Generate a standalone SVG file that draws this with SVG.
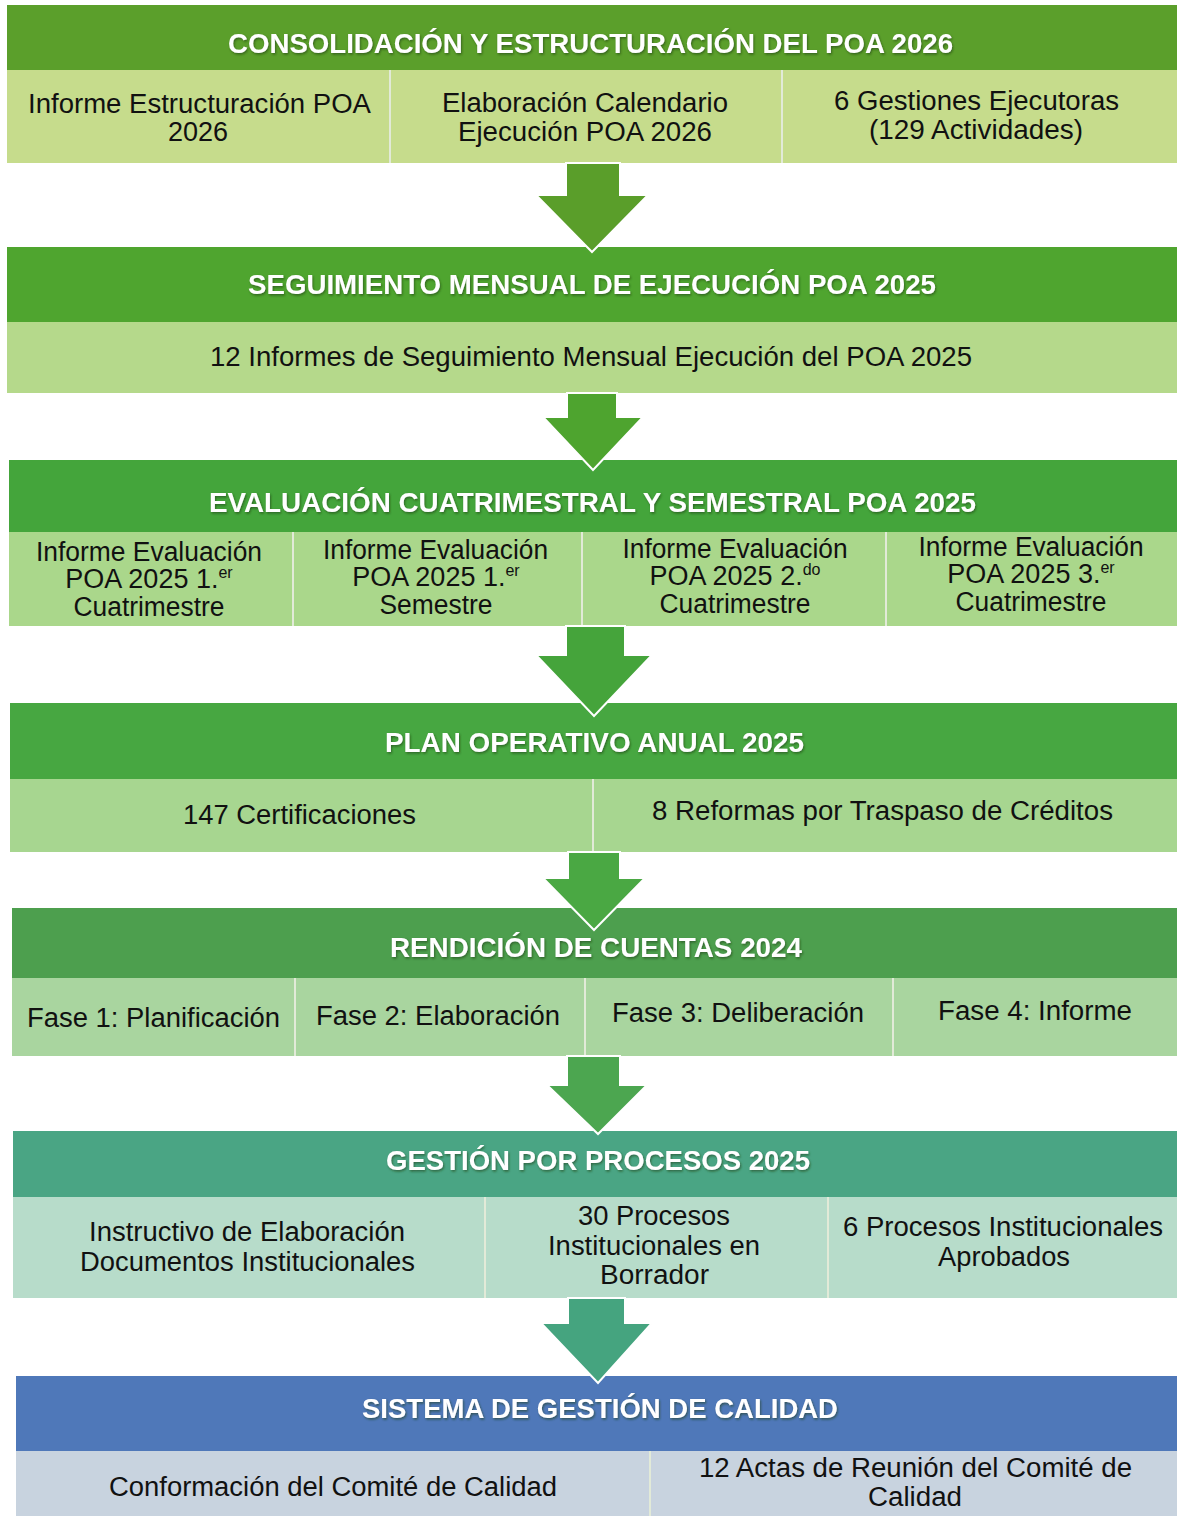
<svg xmlns="http://www.w3.org/2000/svg" width="1177" height="1516" viewBox="0 0 1177 1516">
<defs>
<style>
.hd{font-family:"Liberation Sans",Arial,sans-serif;font-weight:bold;font-size:27px;fill:#ffffff;text-anchor:middle;filter:url(#sh)}
.ct{font-family:"Liberation Sans",Arial,sans-serif;font-size:27px;fill:#111111;text-anchor:middle}
.cn{font-family:"Liberation Sans",Arial,sans-serif;font-size:27px;fill:#111111;text-anchor:middle}
.sup{font-size:16px}
.dv{stroke:#e2ead8;stroke-width:2}
.arr{stroke:#ffffff;stroke-width:2;stroke-linejoin:miter}
</style>
<filter id="sh" x="-5%" y="-30%" width="110%" height="160%">
<feDropShadow dx="1" dy="1.5" stdDeviation="0.8" flood-color="#1e3a0a" flood-opacity="0.6"/>
</filter>
</defs>
<rect width="1177" height="1516" fill="#ffffff"/>

<g id="s1">
<rect x="7" y="5" width="1170" height="65" fill="#5b9f2b"/>
<rect x="7" y="70" width="1170" height="93" fill="#c6dc8c"/>
<line class="dv" x1="390" y1="70" x2="390" y2="163"/>
<line class="dv" x1="782" y1="70" x2="782" y2="163"/>
<text class="hd" x="590.5" y="53" textLength="725" lengthAdjust="spacingAndGlyphs">CONSOLIDACIÓN Y ESTRUCTURACIÓN DEL POA 2026</text>
<text class="ct" x="199.5" y="113" textLength="343" lengthAdjust="spacingAndGlyphs">Informe Estructuración POA</text>
<text class="ct" x="198" y="141">2026</text>
<text class="ct" x="585" y="112" textLength="286" lengthAdjust="spacingAndGlyphs">Elaboración Calendario</text>
<text class="ct" x="585" y="141" textLength="254" lengthAdjust="spacingAndGlyphs">Ejecución POA 2026</text>
<text class="ct" x="976.5" y="110" textLength="285" lengthAdjust="spacingAndGlyphs">6 Gestiones Ejecutoras</text>
<text class="ct" x="976" y="139" textLength="214" lengthAdjust="spacingAndGlyphs">(129 Actividades)</text>
</g>

<g id="s2">
<rect x="7" y="247" width="1170" height="75" fill="#4fa52f"/>
<rect x="7" y="322" width="1170" height="71" fill="#b5d98b"/>
<text class="hd" x="592" y="294" textLength="688" lengthAdjust="spacingAndGlyphs">SEGUIMIENTO MENSUAL DE EJECUCIÓN POA 2025</text>
<text class="ct" x="591" y="366" textLength="762" lengthAdjust="spacingAndGlyphs">12 Informes de Seguimiento Mensual Ejecución del POA 2025</text>
</g>

<g id="s3">
<rect x="9" y="460" width="1168" height="72" fill="#44a53b"/>
<rect x="9" y="532" width="1168" height="94" fill="#aad78b"/>
<line class="dv" x1="293" y1="532" x2="293" y2="626"/>
<line class="dv" x1="582" y1="532" x2="582" y2="626"/>
<line class="dv" x1="886" y1="532" x2="886" y2="626"/>
<text class="hd" x="592.5" y="512" textLength="767" lengthAdjust="spacingAndGlyphs">EVALUACIÓN CUATRIMESTRAL Y SEMESTRAL POA 2025</text>
<text class="ct" x="149" y="561" textLength="226" lengthAdjust="spacingAndGlyphs">Informe Evaluación</text>
<text class="ct" x="149" y="588">POA 2025 1.<tspan class="sup" dy="-10">er</tspan></text>
<text class="ct" x="149" y="616" textLength="151" lengthAdjust="spacingAndGlyphs">Cuatrimestre</text>
<text class="ct" x="435.5" y="559" textLength="225" lengthAdjust="spacingAndGlyphs">Informe Evaluación</text>
<text class="ct" x="436" y="586">POA 2025 1.<tspan class="sup" dy="-10">er</tspan></text>
<text class="ct" x="436" y="614" textLength="113" lengthAdjust="spacingAndGlyphs">Semestre</text>
<text class="ct" x="735" y="558" textLength="225" lengthAdjust="spacingAndGlyphs">Informe Evaluación</text>
<text class="ct" x="735" y="585">POA 2025 2.<tspan class="sup" dy="-10">do</tspan></text>
<text class="ct" x="735" y="613" textLength="151" lengthAdjust="spacingAndGlyphs">Cuatrimestre</text>
<text class="ct" x="1031" y="556" textLength="225" lengthAdjust="spacingAndGlyphs">Informe Evaluación</text>
<text class="ct" x="1031" y="583">POA 2025 3.<tspan class="sup" dy="-10">er</tspan></text>
<text class="ct" x="1031" y="611" textLength="151" lengthAdjust="spacingAndGlyphs">Cuatrimestre</text>
</g>

<g id="s4">
<rect x="10" y="703" width="1167" height="76" fill="#47a741"/>
<rect x="10" y="779" width="1167" height="73" fill="#a7d690"/>
<line class="dv" x1="593" y1="779" x2="593" y2="852"/>
<text class="hd" x="594.5" y="752" textLength="419" lengthAdjust="spacingAndGlyphs">PLAN OPERATIVO ANUAL 2025</text>
<text class="ct" x="299.5" y="824" textLength="233" lengthAdjust="spacingAndGlyphs">147 Certificaciones</text>
<text class="ct" x="882.5" y="820" textLength="461" lengthAdjust="spacingAndGlyphs">8 Reformas por Traspaso de Créditos</text>
</g>

<g id="s5">
<rect x="12" y="908" width="1165" height="70" fill="#4d9f4e"/>
<rect x="12" y="978" width="1165" height="78" fill="#a9d59f"/>
<line class="dv" x1="295" y1="978" x2="295" y2="1056"/>
<line class="dv" x1="585" y1="978" x2="585" y2="1056"/>
<line class="dv" x1="893" y1="978" x2="893" y2="1056"/>
<text class="hd" x="596" y="957" textLength="412" lengthAdjust="spacingAndGlyphs">RENDICIÓN DE CUENTAS 2024</text>
<text class="ct" x="153.5" y="1027" textLength="253" lengthAdjust="spacingAndGlyphs">Fase 1: Planificación</text>
<text class="ct" x="438" y="1025" textLength="244" lengthAdjust="spacingAndGlyphs">Fase 2: Elaboración</text>
<text class="ct" x="738" y="1022" textLength="252" lengthAdjust="spacingAndGlyphs">Fase 3: Deliberación</text>
<text class="ct" x="1035" y="1020" textLength="194" lengthAdjust="spacingAndGlyphs">Fase 4: Informe</text>
</g>

<g id="s6">
<rect x="13" y="1131" width="1164" height="66" fill="#4aa584"/>
<rect x="13" y="1197" width="1164" height="101" fill="#b7dcca"/>
<line class="dv" x1="485" y1="1197" x2="485" y2="1298"/>
<line class="dv" x1="828" y1="1197" x2="828" y2="1298"/>
<text class="hd" x="598" y="1170" textLength="424" lengthAdjust="spacingAndGlyphs">GESTIÓN POR PROCESOS 2025</text>
<text class="cn" x="247" y="1241" textLength="316" lengthAdjust="spacingAndGlyphs">Instructivo de Elaboración</text>
<text class="cn" x="247.5" y="1271" textLength="335" lengthAdjust="spacingAndGlyphs">Documentos Institucionales</text>
<text class="cn" x="654" y="1225" textLength="152" lengthAdjust="spacingAndGlyphs">30 Procesos</text>
<text class="cn" x="654" y="1255" textLength="212" lengthAdjust="spacingAndGlyphs">Institucionales en</text>
<text class="cn" x="654.5" y="1284" textLength="109" lengthAdjust="spacingAndGlyphs">Borrador</text>
<text class="cn" x="1003" y="1236" textLength="320" lengthAdjust="spacingAndGlyphs">6 Procesos Institucionales</text>
<text class="cn" x="1004" y="1266" textLength="132" lengthAdjust="spacingAndGlyphs">Aprobados</text>
</g>

<g id="s7">
<rect x="16" y="1376" width="1161" height="75" fill="#4f78b9"/>
<rect x="16" y="1451" width="1161" height="65" fill="#c8d3df"/>
<line class="dv" x1="650" y1="1451" x2="650" y2="1516"/>
<text class="hd" x="600" y="1418" textLength="476" lengthAdjust="spacingAndGlyphs">SISTEMA DE GESTIÓN DE CALIDAD</text>
<text class="cn" x="333" y="1496" textLength="448" lengthAdjust="spacingAndGlyphs">Conformación del Comité de Calidad</text>
<text class="cn" x="915.5" y="1477" textLength="433" lengthAdjust="spacingAndGlyphs">12 Actas de Reunión del Comité de</text>
<text class="cn" x="915" y="1506" textLength="94" lengthAdjust="spacingAndGlyphs">Calidad</text>
</g>

<g id="connectors">
<polygon class="arr" fill="#5a9e2a" points="566,163 620,163 620,195 648,195 592,252 536,195 566,195"/>
<polygon class="arr" fill="#4ea42f" points="567,393 617,393 617,417 643,417 593,470 543,417 567,417"/>
<polygon class="arr" fill="#45a43b" points="566,626 625,626 625,655 652,655 594,716 536,655 566,655"/>
<polygon class="arr" fill="#4aa843" points="568,852 620,852 620,878 645,878 594,930 543,878 568,878"/>
<polygon class="arr" fill="#4ca650" points="567,1056 620,1056 620,1085 647,1085 598,1134 547,1085 567,1085"/>
<polygon class="arr" fill="#45a47f" points="568,1298 625,1298 625,1323 652,1323 598,1383 541,1323 568,1323"/>
</g>
</svg>
